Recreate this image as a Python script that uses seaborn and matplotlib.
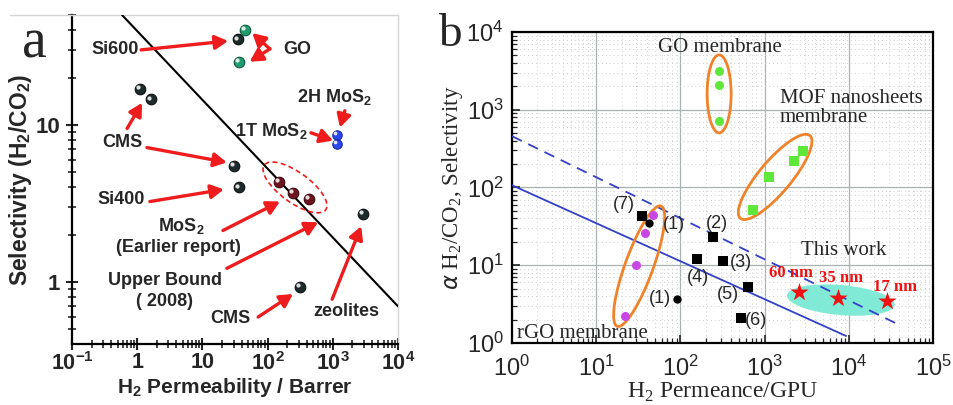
import matplotlib
matplotlib.use("Agg")
import matplotlib.pyplot as plt
import matplotlib.transforms as mtransforms
from matplotlib.patches import Ellipse
from matplotlib.ticker import LogLocator, NullFormatter, FixedLocator, FixedFormatter
from matplotlib.lines import Line2D
import pandas as pd
import seaborn as sns

# ---------------- panel a: H2 permeability (Barrer) vs H2/CO2 selectivity
si600_perm = [35]
si600_sel = [35]
go_perm = [45, 36]
go_sel = [40, 25]
cms_perm = [1.1, 1.6, 30.5, 315]
cms_sel = [17, 14.5, 5.5, 0.93]
si400_perm = [36]
si400_sel = [4.0]
mos2_early_perm = [150, 245, 430]
mos2_early_sel = [4.34, 3.69, 3.38]
mos2_1t2h_perm = [1150, 1150]
mos2_1t2h_sel = [8.6, 7.6]
zeolite_perm = [2900]
zeolite_sel = [2.7]
upper_bound_perm = [0.585, 1e4]
upper_bound_sel = [50, 0.70]
a_xticks = [0.1, 1, 10, 100, 1000, 10000]
a_xticklabels = ["10$^{\\mathregular{-1}}$", "1", "10", "10$^{\\mathregular{2}}$",
                 "10$^{\\mathregular{3}}$", "10$^{\\mathregular{4}}$"]
a_yticks = [1, 10]
a_yticklabels = ["1", "10"]

# ---------------- panel b: H2 permeance (GPU) vs H2/CO2 selectivity
go_mem_perm = [288, 288, 288]
go_mem_sel = [3150, 2080, 710]
mof_perm = [730, 1130, 2240, 2870]
mof_sel = [51, 135, 218, 295]
rgo_perm = [22, 30, 38, 47]
rgo_sel = [2.2, 10.2, 26, 44]
lit_sq_labels = ["(7)", "(2)", "(4)", "(3)", "(5)", "(6)"]
lit_sq_perm = [35, 245, 156, 323, 630, 525]
lit_sq_sel = [43, 23, 12, 11.3, 5.2, 2.1]
lit_circ_labels = ["(1)", "(1)"]
lit_circ_perm = [42, 91]
lit_circ_sel = [35, 3.7]
this_work_labels = ["60 nm", "35 nm", "17 nm"]
this_work_perm = [2560, 7440, 28400]
this_work_sel = [4.5, 3.8, 3.46]
bound_solid_perm = [1, 9300]
bound_solid_sel = [107, 1.23]
bound_dash_perm = [1, 38000]
bound_dash_sel = [457, 1.75]
b_xticks = [1, 10, 100, 1000, 10000, 100000]
b_yticks = [1, 10, 100, 1000, 10000]

DPI = 100
sns.set_theme(style="white")
plt.rcParams["font.family"] = ["Liberation Sans", "DejaVu Sans"]
plt.rcParams["axes.unicode_minus"] = True

fig = plt.figure(figsize=(9.54, 4.05), dpi=DPI)
fig.patch.set_facecolor("white")

RED = "#ee1c1c"


def pix_ellipse(ax, fx, fy, w, h, angle, **kw):
    """Ellipse of fixed pixel size centred at an axes-fraction position."""
    tr = fig.dpi_scale_trans + mtransforms.ScaledTranslation(fx, fy, ax.transAxes)
    e = Ellipse((0, 0), w / DPI, h / DPI, angle=angle, transform=tr, **kw)
    ax.add_patch(e)
    return e


def spheres(ax, xs, ys, base, edge, size=58):
    df = pd.DataFrame({"x": xs, "y": ys})
    sns.scatterplot(data=df, x="x", y="y", ax=ax, s=size, color=base,
                    edgecolor=edge, linewidth=0.8, zorder=5, legend=False)
    hl = mtransforms.offset_copy(ax.transData, fig=fig, x=-1.3, y=1.3, units="points")
    ax.scatter(xs, ys, s=size * 0.16, color="white", alpha=0.85,
               linewidths=0, zorder=6, transform=hl)


# ======================= panel a =======================
axa = fig.add_axes([72 / 954, 1 - 344 / 405, 326 / 954, 329 / 405])
axa.set_xscale("log")
axa.set_yscale("log")
axa.set_xlim(0.1, 1e4)
axa.set_ylim(0.403, 50)

sns.lineplot(x=upper_bound_perm, y=upper_bound_sel, ax=axa, color="black",
             lw=1.5, zorder=3)

dark, dark_e = "#1d2c2a", "#0a1010"
spheres(axa, si600_perm, si600_sel, dark, dark_e)
spheres(axa, go_perm, go_sel, "#1f9c70", "#0d5a3e")
spheres(axa, cms_perm, cms_sel, dark, dark_e)
spheres(axa, si400_perm, si400_sel, dark, dark_e)
spheres(axa, mos2_early_perm, mos2_early_sel, "#6e1420", "#3c0a10")
spheres(axa, mos2_1t2h_perm, mos2_1t2h_sel, "#2a48ee", "#1a2aa0", size=46)
spheres(axa, zeolite_perm, zeolite_sel, dark, dark_e)

pix_ellipse(axa, 0.684, 0.476, 76, 30, -36, fill=False, ec=RED, lw=1.2,
            ls=(0, (3, 2)), zorder=4)

lab = dict(fontsize=13, fontweight="bold", ha="center", va="center",
           transform=axa.transAxes, zorder=8)
axa.text(0.132, 0.894, "Si600", **lab)
axa.text(0.690, 0.894, "GO", **lab)
axa.text(0.804, 0.752, "2H MoS$_\\mathregular{2}$", **lab)
axa.text(0.610, 0.648, "1T MoS$_\\mathregular{2}$", **lab)
axa.text(0.153, 0.612, "CMS", **lab)
axa.text(0.150, 0.440, "Si400", **lab)
axa.text(0.334, 0.358, "MoS$_\\mathregular{2}$", **lab)
axa.text(0.325, 0.292, "(Earlier report)", **lab)
axa.text(0.285, 0.194, "Upper Bound", **lab)
axa.text(0.285, 0.128, "( 2008)", **lab)
axa.text(0.487, 0.076, "CMS", **lab)
axa.text(0.840, 0.100, "zeolites", **lab)

arrows_a = [
    ((0.212, 0.894), (0.479, 0.921)),
    ((0.607, 0.897), (0.553, 0.945)),
    ((0.607, 0.897), (0.545, 0.858)),
    ((0.837, 0.709), (0.822, 0.658)),
    ((0.733, 0.642), (0.801, 0.618)),
    ((0.169, 0.655), (0.215, 0.733)),
    ((0.230, 0.597), (0.475, 0.552)),
    ((0.239, 0.433), (0.466, 0.470)),
    ((0.463, 0.345), (0.638, 0.433)),
    ((0.475, 0.230), (0.755, 0.370)),
    ((0.571, 0.082), (0.678, 0.152)),
    ((0.798, 0.136), (0.887, 0.358)),
]
for tail, tip in arrows_a:
    axa.annotate("", xy=tip, xytext=tail, xycoords="axes fraction",
                 textcoords="axes fraction", zorder=7,
                 arrowprops=dict(arrowstyle="-|>,head_length=0.55,head_width=0.3",
                                 color=RED, lw=2.4, shrinkA=0, shrinkB=0,
                                 mutation_scale=14))

axa.xaxis.set_major_locator(FixedLocator(a_xticks))
axa.xaxis.set_major_formatter(FixedFormatter(a_xticklabels))
axa.xaxis.set_minor_locator(LogLocator(base=10, subs=range(2, 10), numticks=20))
axa.xaxis.set_minor_formatter(NullFormatter())
axa.yaxis.set_major_locator(FixedLocator(a_yticks))
axa.yaxis.set_major_formatter(FixedFormatter(a_yticklabels))
axa.yaxis.set_minor_locator(LogLocator(base=10, subs=range(2, 10), numticks=20))
axa.yaxis.set_minor_formatter(NullFormatter())
axa.tick_params(which="major", direction="inout", length=9, width=1.5,
                labelsize=16, bottom=True, left=True, top=False, right=False, pad=4)
axa.tick_params(axis="x", which="major", pad=1.5, labelsize=15.5)
axa.tick_params(which="minor", direction="inout", length=6, width=1.2,
                bottom=True, left=True, top=False, right=False)
for t in axa.get_xticklabels() + axa.get_yticklabels():
    t.set_fontweight("bold")
for s in ("left", "bottom"):
    axa.spines[s].set_color("black")
    axa.spines[s].set_linewidth(1.6)
for s in ("top", "right"):
    axa.spines[s].set_color("#d4d4d4")
    axa.spines[s].set_linewidth(1.0)
axa.set_xlabel("H$_\\mathregular{2}$ Permeability / Barrer", fontsize=15,
               fontweight="bold")
axa.xaxis.set_label_coords(0.5, -0.098)
axa.set_ylabel("Selectivity (H$_\\mathregular{2}$/CO$_\\mathregular{2}$)",
               fontsize=16.5, fontweight="bold", labelpad=1)
fig.add_artist(Line2D([10 / 954, 72 / 954], [1 - 15 / 405, 1 - 15 / 405],
                      color="#d4d4d4", lw=1.0))
fig.text(34 / 954, 1 - 44 / 405, "a", fontsize=40, family="Liberation Serif",
         ha="center", va="center")

# ======================= panel b =======================
axb = fig.add_axes([512 / 954, 1 - 343 / 405, 421 / 954, 311 / 405])
axb.set_xscale("log")
axb.set_yscale("log")
axb.set_xlim(1, 1e5)
axb.set_ylim(1, 1e4)
axb.set_axisbelow(True)
axb.grid(which="major", color="#a8b2b2", lw=0.9, ls="-")
axb.grid(which="minor", color="#cfcfcf", lw=0.7, ls=(0, (1, 3)))

BLUE = "#3340c8"
ORANGE = "#f0822a"
pix_ellipse(axb, 0.781, 0.138, 108, 30, -5, fc="#80ead6", ec="none", zorder=2)
sns.lineplot(x=bound_solid_perm, y=bound_solid_sel, ax=axb, color=BLUE, lw=1.3, zorder=3)
sns.lineplot(x=bound_dash_perm, y=bound_dash_sel, ax=axb, color=BLUE, lw=1.3,
             zorder=3, dashes=False)
axb.lines[-1].set_linestyle((0, (6, 4)))

pix_ellipse(axb, 0.492, 0.801, 24, 78, 0, fill=False, ec=ORANGE, lw=2, zorder=4)
pix_ellipse(axb, 0.625, 0.534, 108, 32, 50, fill=False, ec=ORANGE, lw=2, zorder=4)
pix_ellipse(axb, 0.302, 0.247, 128, 28, 70, fill=False, ec=ORANGE, lw=2, zorder=4)

GREEN = "#5ee83a"
sns.scatterplot(x=go_mem_perm, y=go_mem_sel, ax=axb, color=GREEN, s=42,
                marker="o", linewidth=0, zorder=5, legend=False)
sns.scatterplot(x=mof_perm, y=mof_sel, ax=axb, color=GREEN, s=46,
                marker="s", linewidth=0, zorder=5, legend=False)
sns.scatterplot(x=rgo_perm, y=rgo_sel, ax=axb, color="#c846e6", s=42,
                marker="o", linewidth=0, zorder=5, legend=False)
sns.scatterplot(x=lit_sq_perm, y=lit_sq_sel, ax=axb, color="black", s=46,
                marker="s", linewidth=0, zorder=5, legend=False)
sns.scatterplot(x=lit_circ_perm, y=lit_circ_sel, ax=axb, color="black", s=36,
                marker="o", linewidth=0, zorder=5, legend=False)
sns.scatterplot(x=this_work_perm, y=this_work_sel, ax=axb, color="#ee1111", s=190,
                marker="*", linewidth=0, zorder=6, legend=False)

sq_offsets = [(-13, 8), (3, 10), (1, -13), (13, -1), (-14, -5), (11, -1.5)]
for t, x, y, off in zip(lit_sq_labels, lit_sq_perm, lit_sq_sel, sq_offsets):
    axb.annotate(t, (x, y), xytext=off, textcoords="offset points", fontsize=13,
                 ha="center", va="center", zorder=7)
circ_offsets = [(18, -1), (-12, 0)]
for t, x, y, off in zip(lit_circ_labels, lit_circ_perm, lit_circ_sel, circ_offsets):
    axb.annotate(t, (x, y), xytext=off, textcoords="offset points", fontsize=13,
                 ha="center", va="center", zorder=7)
star_offsets = [(-6, 14), (2, 14), (6, 10)]
for t, x, y, off in zip(this_work_labels, this_work_perm, this_work_sel, star_offsets):
    axb.annotate(t, (x, y), xytext=off, textcoords="offset points", fontsize=12,
                 fontweight="bold", color="#ee1111", family="Liberation Serif",
                 ha="center", va="center", zorder=7)

serif = dict(family=["Liberation Serif", "DejaVu Serif"], fontsize=15,
             transform=axb.transAxes, zorder=7)
axb.text(0.494, 0.95, "GO membrane", ha="center", va="center", **serif)
axb.text(0.636, 0.785, "MOF nanosheets", ha="left", va="center", **serif)
axb.text(0.636, 0.725, "membrane", ha="left", va="center", **serif)
axb.text(0.789, 0.299, "This work", ha="center", va="center", **serif)
axb.text(0.013, 0.032, "rGO membrane", ha="left", va="center", **serif)

axb.xaxis.set_major_locator(FixedLocator(b_xticks))
axb.xaxis.set_major_formatter(FixedFormatter(
    ["$\\mathregular{10^{%d}}$" % i for i in range(len(b_xticks))]))
axb.yaxis.set_major_locator(FixedLocator(b_yticks))
axb.yaxis.set_major_formatter(FixedFormatter(
    ["$\\mathregular{10^{%d}}$" % i for i in range(len(b_yticks))]))
for axis in (axb.xaxis, axb.yaxis):
    axis.set_minor_locator(LogLocator(base=10, subs=range(2, 10), numticks=20))
    axis.set_minor_formatter(NullFormatter())
axb.tick_params(which="major", direction="in", length=6, width=1.2, labelsize=17,
                bottom=True, left=True, top=False, right=False)
axb.tick_params(axis="x", which="major", pad=9)
axb.tick_params(axis="y", which="major", pad=6)
axb.tick_params(which="minor", direction="in", length=3.5, width=0.9,
                bottom=True, left=True, top=False, right=False)
for s in axb.spines.values():
    s.set_color("black")
    s.set_linewidth(1.6)
axb.set_xlabel("H$_\\mathregular{2}$ Permeance/GPU", family="Liberation Serif",
               fontsize=17, labelpad=0)
axb.set_ylabel("$\\alpha$ H$_\\mathregular{2}$/CO$_\\mathregular{2}$, Selectivity",
               family="Liberation Serif", fontsize=16.5, labelpad=1)
fig.text(450 / 954, 1 - 35 / 405, "b", fontsize=34, family="Liberation Serif",
         ha="center", va="center")

fig.savefig("out.png", dpi=DPI, facecolor="white")
